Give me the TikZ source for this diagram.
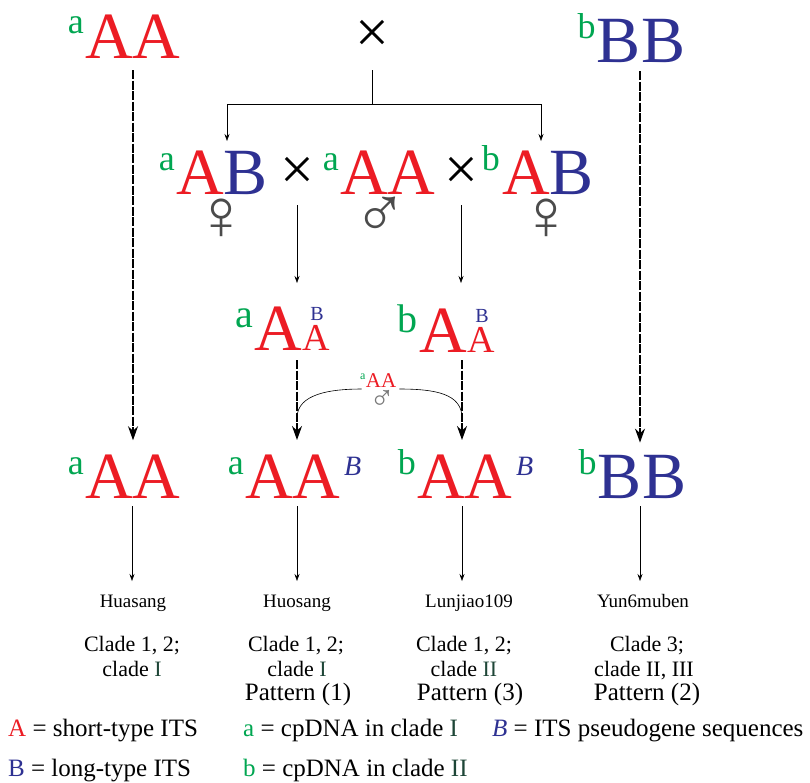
\documentclass[tikz,border=0pt]{standalone}
\usepackage{fontspec}
\setmainfont{Liberation Serif}
\usetikzlibrary{arrows.meta}
\definecolor{itsred}{RGB}{236,28,36}
\definecolor{itsblue}{RGB}{46,49,146}
\definecolor{cpgreen}{RGB}{0,166,81}
\definecolor{cladeg}{RGB}{30,70,55}
\definecolor{sexgray}{RGB}{75,75,75}
\tikzset{
  big/.style={font=\fontsize{66}{66}\selectfont, inner sep=0pt, anchor=base},
  sup/.style={font=\fontsize{36}{36}\selectfont, text=cpgreen, inner sep=0pt, anchor=base east},
  midsup/.style={font=\fontsize{40}{40}\selectfont, text=cpgreen, inner sep=0pt, anchor=base east},
  itB/.style={font=\fontsize{28}{28}\selectfont\itshape, text=itsblue, inner sep=0pt, anchor=base west},
  crosssym/.style={font=\fontsize{60}{60}\selectfont, inner sep=0pt},
  sexsym/.style={font=\fontsize{72}{72}\selectfont, text=sexgray, inner sep=0pt},
  dasharrow/.style={line width=1.3pt, dash pattern=on 9pt off 1.5pt, -{Stealth[length=14pt,width=10pt]}},
  thinarrow/.style={line width=0.6pt, -{Stealth[length=7pt,width=5pt]}},
  thinline/.style={line width=0.6pt},
  lab/.style={font=\fontsize{19}{19}\selectfont, inner sep=0pt, anchor=base},
  clade/.style={font=\fontsize{22}{22}\selectfont, inner sep=0pt, anchor=base},
  pat/.style={font=\fontsize{25}{25}\selectfont, inner sep=0pt, anchor=base},
  legend/.style={font=\fontsize{25}{25}\selectfont, inner sep=0pt, anchor=base west},
}
\begin{document}
\begin{tikzpicture}[x=1pt,y=-1pt]
\fill[white] (0,0) rectangle (810,782);
\useasboundingbox (0,0) rectangle (810,782);

% ---- row 1
\node[big, text=itsred] (pAA) at (133,58) {AA};
\node[sup] (pAAs) at ([xshift=-1pt,yshift=25pt]pAA.base west) {a};
\node[crosssym] (x1) at (372,36) {×};
\node[big, text=itsblue] (pBB) at (641,62) {BB};
\node[sup] (pBBs) at ([xshift=-1pt,yshift=24pt]pBB.base west) {b};

\coordinate (x1d) at (372,70);
\coordinate (j0) at (372,104);
\coordinate (jl) at (227,104);
\coordinate (jr) at (541,104);
\coordinate (jle) at (227,141);
\coordinate (jre) at (541,141);
\draw[thinline] (x1d) -- (j0);
\draw[thinline] (jl) -- (jr);
\draw[thinarrow] (jl) -- (jle);
\draw[thinarrow] (jr) -- (jre);

% ---- row 2
\node[big] (mAB) at (222,194) {\textcolor{itsred}{A}\textcolor{itsblue}{B}};
\node[sup] (mABs) at ([xshift=-1pt,yshift=24pt]mAB.base west) {a};
\node[sexsym] (f1) at (221,219) {♀};
\node[crosssym] (x2) at (297,173) {×};
\node[big, text=itsred] (mAA) at (388,194) {AA};
\node[sup] (mAAs) at ([xshift=-1pt,yshift=24pt]mAA.base west) {a};
\node[sexsym] (m1) at (380,217) {♂};
\node[crosssym] (x3) at (461,173) {×};
\node[big] (mAB2) at (548,194) {\textcolor{itsred}{A}\textcolor{itsblue}{B}};
\node[sup] (mAB2s) at ([xshift=-2pt,yshift=24pt]mAB2.base west) {b};
\node[sexsym] (f2) at (546,219) {♀};

\coordinate (x2d) at (297,205);
\coordinate (x2e) at (297,283);
\coordinate (x3d) at (461,205);
\coordinate (x3e) at (461,283);
\draw[thinarrow] (x2d) -- (x2e);
\draw[thinarrow] (x3d) -- (x3e);

% ---- row 3
\node[big, text=itsred, anchor=base west] (hA1) at (254,350) {A};
\node[font=\fontsize{38}{38}\selectfont, text=itsred, inner sep=0pt, anchor=base west] (hA1s) at (hA1.base east) {A};
\node[font=\fontsize{20}{20}\selectfont, text=itsblue, inner sep=0pt, anchor=base] (hB1) at ([xshift=1pt,yshift=30pt]hA1s.base) {B};
\node[midsup] (hA1g) at ([xshift=-1pt,yshift=23pt]hA1.base west) {a};

\node[big, text=itsred, anchor=base west] (hA2) at (419,352) {A};
\node[font=\fontsize{38}{38}\selectfont, text=itsred, inner sep=0pt, anchor=base west] (hA2s) at (hA2.base east) {A};
\node[font=\fontsize{20}{20}\selectfont, text=itsblue, inner sep=0pt, anchor=base] (hB2) at ([xshift=1pt,yshift=30pt]hA2s.base) {B};
\node[midsup] (hA2g) at ([xshift=-1pt,yshift=20pt]hA2.base west) {b};

% small aAA with male sign
\node[font=\fontsize{21}{21}\selectfont, text=itsred, inner sep=0pt, anchor=base] (sAA) at (381,387) {AA};
\node[font=\fontsize{12}{12}\selectfont, text=cpgreen, inner sep=0pt, anchor=base east] (sAAs) at ([yshift=8pt]sAA.base west) {a};
\node[font=\fontsize{34}{34}\selectfont, text=sexgray!75, inner sep=0pt] (sM) at (382,400) {♂};

\coordinate (d1s) at (297,360);
\coordinate (d1e) at (297,440);
\coordinate (d2s) at (462,360);
\coordinate (d2e) at (462,440);
\draw[dasharrow] (d1s) -- (d1e);
\draw[dasharrow] (d2s) -- (d2e);
\coordinate (cl) at (297,418);
\coordinate (cr) at (462,418);
\draw[thinline] (cl) .. controls (297,394) and (330,389) .. ([xshift=-4pt,yshift=-2pt]sAA.base west);
\draw[thinline] ([xshift=3pt,yshift=-2pt]sAA.base east) .. controls (436,389) and (462,394) .. (cr);

% ---- long dashed arrows
\node[big, text=itsred] (qAA) at (133,498) {AA};
\node[sup] (qAAs) at ([xshift=-1pt,yshift=24pt]qAA.base west) {a};
\draw[dasharrow] ([yshift=-12pt]pAA.south) -- ([yshift=14pt]qAA.north);

\node[big, text=itsblue] (qBB) at (642,498) {BB};
\node[sup] (qBBs) at ([xshift=-1pt,yshift=24pt]qBB.base west) {b};
\draw[dasharrow] ([yshift=-9pt,xshift=-1pt]pBB.south) -- ([yshift=12pt,xshift=-2pt]qBB.north);

% ---- row 4
\node[big, text=itsred] (qAAB) at (293,498) {AA};
\node[sup] (qAABs) at ([xshift=-1pt,yshift=24pt]qAAB.base west) {a};
\node[itB] (qAABb) at ([xshift=3pt,yshift=23pt]qAAB.base east) {B};
\node[big, text=itsred] (qbAA) at (465,498) {AA};
\node[sup] (qbAAs) at ([xshift=-1pt,yshift=24pt]qbAA.base west) {b};
\node[itB] (qbAAb) at ([xshift=3pt,yshift=23pt]qbAA.base east) {B};

% ---- labels
\node[lab] (lab1) at (133,607) {Huasang};
\node[lab] (lab2) at (297,607) {Huosang};
\node[lab] (lab3) at (469,607) {Lunjiao109};
\node[lab] (lab4) at (643,607) {Yun6muben};

\coordinate (a1s) at (132,506);
\coordinate (a2s) at (297,506);
\coordinate (a3s) at (462,506);
\coordinate (a4s) at (640,506);
\draw[thinarrow] (a1s) -- (a1s |- 0,581);
\draw[thinarrow] (a2s) -- (a2s |- 0,581);
\draw[thinarrow] (a3s) -- (a3s |- 0,581);
\draw[thinarrow] (a4s) -- (a4s |- 0,581);

\node[clade] (c1a) at (132,651) {Clade 1, 2;};
\node[clade] (c1b) at (132,676) {clade \textcolor{cladeg}{I}};
\node[clade] (c2a) at (296,651) {Clade 1, 2;};
\node[clade] (c2b) at (297,676) {clade \textcolor{cladeg}{I}};
\node[clade] (c3a) at (464,651) {Clade 1, 2;};
\node[clade] (c3b) at (464,676) {clade \textcolor{cladeg}{II}};
\node[clade] (c4a) at (647,651) {Clade 3;};
\node[clade] (c4b) at (644,676) {clade II, III};

\node[pat] (p1) at (298,700) {Pattern (1)};
\node[pat] (p3) at (470,700) {Pattern (3)};
\node[pat] (p2) at (647,700) {Pattern (2)};

% ---- legend
\node[legend] (lg1) at (8,736) {\textcolor{itsred}{A} = short-type ITS};
\node[legend] (lg2) at (243,736) {\textcolor{cpgreen}{a} = cpDNA in clade \textcolor{cladeg}{I}};
\node[legend] (lg3) at (492,736) {\textcolor{itsblue}{\textit{B}} = ITS pseudogene sequences};
\node[legend] (lg4) at (8,776) {\textcolor{itsblue}{B} = long-type ITS};
\node[legend] (lg5) at (243,776) {\textcolor{cpgreen}{b} = cpDNA in clade \textcolor{cladeg}{II}};
\end{tikzpicture}
\end{document}
